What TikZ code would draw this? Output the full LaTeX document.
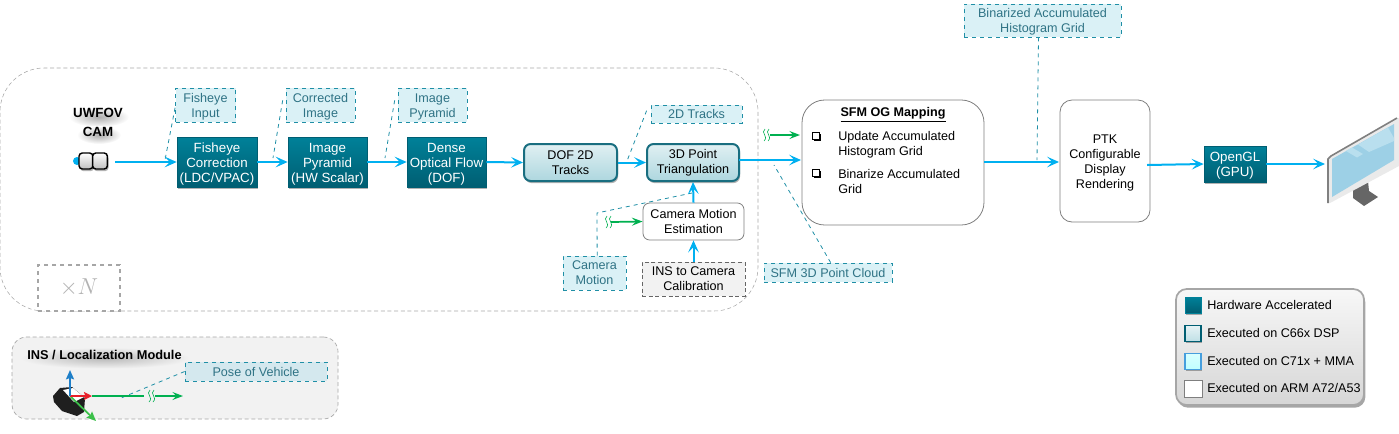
\documentclass[tikz,border=0pt]{standalone}
\usepackage{fontspec}
\setmainfont{Liberation Sans}
\usetikzlibrary{arrows.meta,shadows,shapes.geometric}
\definecolor{arrowblue}{HTML}{00B0F0}
\definecolor{tealtop}{HTML}{008199}
\definecolor{tealbot}{HTML}{005E72}
\definecolor{tealline}{HTML}{1F8FA6}
\definecolor{calloutfill}{HTML}{DAF1F6}
\definecolor{posefill}{HTML}{D4E8EE}
\definecolor{callouttext}{HTML}{2F7385}
\definecolor{greenarrow}{HTML}{00B050}
\definecolor{axisgreen}{HTML}{3CC04A}
\definecolor{axisred}{HTML}{E8202A}
\definecolor{axisblue}{HTML}{1F7FC8}
\definecolor{boxline}{HTML}{7F7F7F}
\definecolor{screenfill}{HTML}{9DD0E6}
\definecolor{screenstrip}{HTML}{B9DFEE}
\definecolor{monframe}{HTML}{EAEAEA}
\newcommand{\bodyfont}{\fontsize{9.45}{11.25}\selectfont}
\newcommand{\hwfont}{\fontsize{10}{11.25}\selectfont}
\newcommand{\fl}{\rule{0pt}{10pt}}
\newcommand{\fs}{\rule{0pt}{8.8pt}}
\newcommand{\squig}[1]{%
  \begin{scope}[shift={(#1)}]
    \draw[greenarrow,line width=.45pt] (-1,-6) .. controls (-6,-2) and (3,1) .. (-2,6);
    \draw[greenarrow,line width=.45pt] (3,-6) .. controls (-2,-2) and (7,1) .. (2,6);
  \end{scope}}
\newcommand{\softshadow}[4]{% cx cy w h
  \shade[inner color=black!32,outer color=white,draw=none] (#1,#2) ellipse [x radius=#3*.75pt,y radius=#4*.75pt];}
\tikzset{
  box/.style 2 args={minimum width=#1*.75pt,minimum height=#2*.75pt,inner sep=0pt,align=center,font=\bodyfont},
  softdrop/.style={drop shadow={shadow xshift=.8pt,shadow yshift=-1.6pt,opacity=.3,fill=black}},
  hwbox/.style={rectangle,draw=tealbot,line width=.5pt,top color=tealtop,bottom color=tealbot,text=white,softdrop},
  dspbox/.style={rectangle,rounded corners=5pt,draw=tealbot!90!white,line width=1.5pt,top color=white!88!tealtop,bottom color=tealtop!32!white,softdrop},
  armbox/.style={rectangle,draw=boxline,line width=.6pt,fill=white},
  insbox/.style={rectangle,draw=black!60,densely dashed,line width=.5pt,fill=black!5},
  callout/.style={rectangle,draw=tealline,dashed,line width=.6pt,fill=calloutfill,text=callouttext},
  lead/.style={draw=tealline,dashed,line width=.6pt},
  arr/.style={draw=arrowblue,line width=1.5pt,-{Stealth[length=9pt,width=8pt,inset=4pt]}},
  garr/.style={draw=greenarrow,line width=1.3pt,-{Stealth[length=8pt,width=6pt,inset=3pt]}},
  legtext/.style={anchor=west,inner sep=0pt,font=\bodyfont},
  swatch/.style={rectangle,minimum size=12pt,inner sep=0pt},
  bulletbox/.style={rectangle,draw=black,line width=.6pt,minimum size=5.5pt,inner sep=0pt,fill=white,drop shadow={shadow xshift=1pt,shadow yshift=-1pt,opacity=1,fill=black}},
}
\begin{document}
\begin{tikzpicture}[x=.75pt,y=-.75pt]
\useasboundingbox (0,0) rectangle (1399,433);
% group frames
\node[draw=black!35,densely dashed,line width=.4pt,rounded corners=33pt,box={758}{243}] (group) at (379,189.5) {};
\node[draw=black!35,densely dashed,line width=.5pt,fill=black!5,rounded corners=11pt,box={326}{82}] (insmod) at (175,378) {};
\node[draw=black!35,dashed,line width=1.1pt,fill=white,minimum width=61.5pt,minimum height=34.5pt,inner sep=0pt,font=\fontsize{19}{23}\selectfont,text=black!30] (timesn) at (79,288) {$\times N$};
% camera
\softshadow{99}{117}{30}{10}
\softshadow{99}{135}{22}{9}
\node[minimum width=45pt,minimum height=11pt,inner sep=0pt,font=\fontsize{10}{12}\selectfont\bfseries] (uwfov) at (98,113) {UWFOV};
\node[minimum width=45pt,minimum height=11pt,inner sep=0pt,font=\fontsize{10}{12}\selectfont\bfseries] (camlab) at (98,132) {CAM};
\fill[arrowblue] (77,161) circle [radius=4];
\node[rectangle,rounded corners=2.5pt,draw=black,line width=1.1pt,top color=white,bottom color=black!25,softdrop,minimum width=10.5pt,minimum height=12pt,inner sep=0pt] (lensa) at (86,161) {};
\node[rectangle,rounded corners=2.5pt,draw=black,line width=1.1pt,top color=white,bottom color=black!25,softdrop,minimum width=11.2pt,minimum height=12pt,inner sep=0pt] (cam) at (100,161) {};
% main boxes
\node[hwbox,box={80}{50},font=\hwfont] (fish) at (217,162) {\fl Fisheye\\Correction\\(LDC/VPAC)};
\node[hwbox,box={79}{50},font=\hwfont] (pyr) at (327.5,162) {\fl Image\\Pyramid\\(HW Scalar)};
\node[hwbox,box={79}{50},font=\hwfont] (dof) at (446.5,162) {\fl Dense\\Optical Flow\\(DOF)};
\node[dspbox,box={93}{37}] (tracks) at (570.5,162.5) {DOF 2D\\Tracks};
\node[dspbox,box={92}{37}] (tri) at (693,162.5) {3D Point\\Triangulation};
\node[armbox,rounded corners=5pt,box={101}{37}] (est) at (693.5,221.5) {Camera Motion\\Estimation};
\node[insbox,box={103}{34}] (calib) at (693.5,279) {INS to Camera\\Calibration};
\node[armbox,rounded corners=17pt,minimum width=136.5pt,minimum height=93.75pt,inner sep=0pt] (sfm) at (893,162.5) {};
\node[font=\bodyfont\bfseries,inner sep=0pt] (sfmtitle) at (893,115) {\underline{SFM OG Mapping}};
\node[anchor=west,inner sep=0pt,font=\bodyfont,align=left] (upd) at (838,144.5) {Update Accumulated\\Histogram Grid};
\node[anchor=west,inner sep=0pt,font=\bodyfont,align=left] (bin) at (838,181.5) {Binarize Accumulated\\Grid};
\node[bulletbox] (bula) at (816,136) {};
\node[bulletbox] (bulb) at (816,173) {};
\node[armbox,rounded corners=9pt,box={90}{122}] (ptk) at (1105,161) {\fl PTK\\Configurable\\Display\\Rendering};
\node[hwbox,box={62}{36},font=\hwfont] (gl) at (1235,164) {\fl OpenGL\\(GPU)};
% callouts
\node[callout,box={60}{34}] (cfish) at (205.5,105) {\fs Fisheye\\Input};
\node[callout,box={69}{34}] (ccorr) at (320.5,105) {\fs Corrected\\Image};
\node[callout,box={69}{34}] (cpyr) at (432.5,105) {\fs Image\\Pyramid};
\node[callout,box={91}{18}] (ctracks) at (696.5,114) {2D Tracks};
\node[callout,box={63}{34}] (cmot) at (594.5,273) {Camera\\Motion};
\node[callout,box={128}{19}] (ccloud) at (828,272.5) {SFM 3D Point Cloud};
\node[callout,box={157}{33}] (cbin) at (1042.5,20.5) {\fs Binarized Accumulated\\Histogram Grid};
\node[callout,fill=posefill,box={142}{19}] (cpose) at (256,371.5) {Pose of Vehicle};
% free ends
\coordinate (lfish) at (165,160);
\coordinate (lcorr) at (273,158);
\coordinate (lpyr) at (385,158);
\coordinate (ltrack) at (627,161);
\coordinate (lmotb) at (597,213);
\coordinate (lmotc) at (692,193);
\coordinate (lcloud) at (774,165);
\coordinate (lbin) at (1037,160);
\coordinate (lpose) at (121,398);
% leaders
\draw[lead] ([yshift=-2pt]cfish.west) -- (lfish);
\draw[lead] ([xshift=-2.2pt,yshift=3.5pt]ccorr.west) -- (lcorr);
\draw[lead] ([xshift=-2.2pt,yshift=3.5pt]cpyr.west) -- (lpyr);
\draw[lead] ([xshift=-3pt,yshift=2.5pt]ctracks.west) -- (ltrack);
\draw[lead] ([xshift=2pt]cmot.north) -- (lmotb) -- (lmotc);
\draw[lead] ([xshift=2pt]ccloud.north) -- (lcloud);
\draw[lead] ([xshift=-3pt]cbin.south) -- (lbin);
\draw[lead] (cpose.west) -- (lpose);
% blue connectors
\coordinate (camout) at (115,162);
\coordinate (triout) at (739,160);
\coordinate (sfmin) at (801,160);
\coordinate (sfmout) at (984,162);
\coordinate (ptkin) at (1059,162);
\coordinate (ptkout) at (1147,165);
\coordinate (monin) at (1325,164);
\draw[arr] (camout) -- (fish.west);
\draw[arr] (fish.east) -- (pyr.west);
\draw[arr] (pyr.east) -- (dof.west);
\draw[arr] (dof.east) -- (tracks.west);
\draw[arr] (tracks.east) -- (tri.west);
\draw[arr] (triout) -- (sfmin);
\draw[arr] (est.north) -- (tri.south);
\draw[arr] (calib.north) -- (est.south);
\draw[arr] (sfmout) -- (ptkin);
\draw[arr] (ptkout) -- (gl.west);
\draw[arr] (gl.east) -- (monin);
% green connectors
\coordinate (gsq) at (608,222);
\coordinate (gsa) at (611,222);
\coordinate (hsq) at (766,135);
\coordinate (hsa) at (770,135);
\coordinate (hsb) at (800,135);
\squig{gsq}
\draw[garr] (gsa) -- (est.west);
\squig{hsq}
\draw[garr] (hsa) -- (hsb);
% INS sensor
\fill[black!88] (53,396) -- (60,388) -- (72,387) -- (85,398) -- (84,412) -- (77,416) -- (62,411) -- (54,402) -- cycle;
\fill[white] (63,390) -- (73,388) -- (84,397) -- (74,402) -- cycle;
\coordinate (org) at (70,396);
\coordinate (ozend) at (70,370);
\coordinate (oyend) at (96,421);
\coordinate (oxend) at (92,396);
\coordinate (gline) at (144,396);
\coordinate (gsi) at (151,396);
\coordinate (garra) at (155,396);
\coordinate (garrb) at (183,396);
\draw[draw=greenarrow,line width=1.3pt] (oxend) -- (gline);
\squig{gsi}
\draw[garr] (garra) -- (garrb);
\draw[draw=axisgreen,line width=1.3pt,-{Stealth[length=7pt,width=6pt,inset=1pt]}] (org) -- (oyend);
\draw[draw=axisred,line width=1.3pt,-{Stealth[length=6pt,width=6pt,inset=1pt]}] (org) -- (oxend);
\draw[draw=axisblue,line width=1.3pt,-{Stealth[length=7pt,width=6pt,inset=1pt]}] (org) -- (ozend);
\shade[inner color=black!28,outer color=black!5,draw=none] (105,358) ellipse [x radius=64pt,y radius=8pt];
\node[font=\fontsize{9.6}{12}\selectfont\bfseries,inner sep=0pt] (institle) at (104.5,355) {INS / Localization Module};
% monitor
\fill[black!60] (1353,182) -- (1368,181) -- (1369,191) -- (1378,197) -- (1364,206) -- (1353,198) -- cycle;
\fill[monframe] (1328,157) -- (1397,118) -- (1399,118) -- (1399,166) -- (1330,203) -- (1328,203) -- cycle;
\draw[black!50,line width=1.2pt] (1328,203) -- (1328,159) -- (1331,156) -- (1397,118);
\fill[screenfill] (1332,159) -- (1394,124) -- (1394,160) -- (1332,197) -- cycle;
\fill[screenstrip] (1358,144.5) -- (1388,127.5) -- (1394,138) -- (1394,141) -- (1369,152) -- cycle;
\fill[screenstrip] (1346,151) -- (1352,147.5) -- (1363,154) -- (1357,157.5) -- cycle;
% legend
\node[rectangle,rounded corners=8pt,draw=black!35,line width=1.3pt,top color=black!3,bottom color=black!16,drop shadow={shadow xshift=1pt,shadow yshift=-2pt,opacity=.35,fill=black},minimum width=141pt,minimum height=87pt,inner sep=0pt] (legend) at (1270,347) {};
\node[swatch,hwbox,draw=tealtop] (swa) at (1193,305) {};
\node[swatch,rectangle,draw=tealbot,line width=1.3pt,top color=white!90!tealtop,bottom color=tealtop!25!white,drop shadow={shadow xshift=.5pt,shadow yshift=-1pt,opacity=.3,fill=black}] (swb) at (1193,333.5) {};
\node[swatch,rectangle,draw=cyan!70!blue!75!white,line width=1.3pt,top color=cyan!15,bottom color=cyan!25,drop shadow={shadow xshift=.5pt,shadow yshift=-1pt,opacity=.3,fill=black}] (swc) at (1193,361.5) {};
\node[swatch,armbox,minimum size=13pt] (swd) at (1193.5,389) {};
\node[legtext] (lta) at (1207,305) {Hardware Accelerated};
\node[legtext] (ltb) at (1207,333) {Executed on C66x DSP};
\node[legtext] (ltc) at (1207,361) {Executed on C71x + MMA};
\node[legtext] (ltd) at (1207,388) {Executed on ARM A72/A53};
\end{tikzpicture}
\end{document}
